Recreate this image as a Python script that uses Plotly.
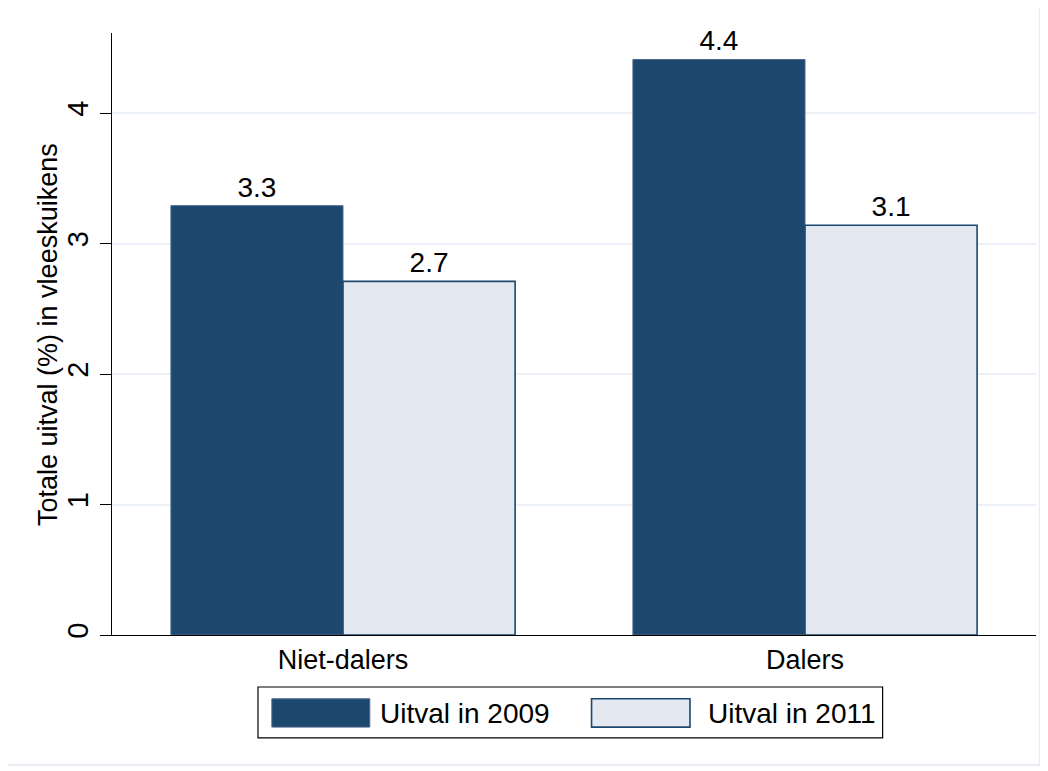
import plotly.graph_objects as go

groepen = ["Niet-dalers", "Dalers"]
uitval_2009 = [3.29, 4.41]
uitval_2011 = [2.71, 3.14]
reeksen = ["Uitval in 2009", "Uitval in 2011"]
y_titel = "Totale uitval (%) in vleeskuikens"

DONKER = "#1c476e"
LICHT = "#e4e8f0"
FONT = "Liberation Sans, Arial, sans-serif"

fig = go.Figure()
fig.add_trace(go.Bar(
    x=groepen, y=uitval_2009, name=reeksen[0],
    marker=dict(color=DONKER, line=dict(color="#4a6a8a", width=1)),
    texttemplate="%{y:.1f}", textposition="outside",
    textfont=dict(size=28, color="black", family=FONT), cliponaxis=False,
))
fig.add_trace(go.Bar(
    x=groepen, y=uitval_2011, name=reeksen[1],
    marker=dict(color=LICHT, line=dict(color=DONKER, width=1.6)),
    texttemplate="%{y:.1f}", textposition="outside",
    textfont=dict(size=28, color="black", family=FONT), cliponaxis=False,
))

# de pagina heeft 8px body-marge, daarom marges iets kleiner
fig.update_layout(
    width=1048, height=771, barmode="group", bargap=0.255, bargroupgap=0,
    plot_bgcolor="white", paper_bgcolor="white", showlegend=False,
    margin=dict(l=104, r=20, t=25, b=144),
    font=dict(family=FONT, color="black"),
)
fig.update_xaxes(
    showline=True, linecolor="black", linewidth=1.2, ticks="",
    tickfont=dict(size=27), range=[-0.5, 1.5],
)
fig.update_yaxes(
    range=[0, 4.613], dtick=1, tickangle=-90, ticks="outside", ticklen=11,
    tickcolor="black", showline=True, linecolor="black", linewidth=1.2,
    showgrid=True, gridcolor="#eaf0f5", gridwidth=2, zeroline=False,
    tickfont=dict(size=29),
)

# y-as titel als annotatie (dichter bij de ticklabels dan standoff toelaat)
fig.add_annotation(xref="paper", yref="paper", x=-0.0693, y=0.5,
                   text=y_titel, textangle=-90, showarrow=False,
                   xanchor="center", yanchor="middle",
                   font=dict(size=27, family=FONT, color="black"))

# buitenkader
fig.add_shape(type="rect", xref="paper", yref="paper",
              x0=-0.1147, x1=1.004, y0=-0.216, y1=1.0465,
              line=dict(color="#e8eef4", width=2))

# legenda (handmatig, grote symbolen zoals in het origineel)
fig.add_shape(type="rect", xref="paper", yref="paper",
              x0=0.158, x1=0.834, y0=-0.171, y1=-0.0864,
              line=dict(color="black", width=1.2), fillcolor="white")
fig.add_shape(type="rect", xref="paper", yref="paper",
              x0=0.173, x1=0.279, y0=-0.153, y1=-0.106,
              line=dict(color="#4a6a8a", width=1), fillcolor=DONKER)
fig.add_annotation(xref="paper", yref="paper", x=0.288, y=-0.1296,
                   text=reeksen[0], showarrow=False, xanchor="left", yanchor="middle",
                   font=dict(size=28, family=FONT, color="black"))
fig.add_shape(type="rect", xref="paper", yref="paper",
              x0=0.519, x1=0.6255, y0=-0.153, y1=-0.106,
              line=dict(color=DONKER, width=1.6), fillcolor=LICHT)
fig.add_annotation(xref="paper", yref="paper", x=0.643, y=-0.1296,
                   text=reeksen[1], showarrow=False, xanchor="left", yanchor="middle",
                   font=dict(size=28, family=FONT, color="black"))

fig.write_html("out.html")
